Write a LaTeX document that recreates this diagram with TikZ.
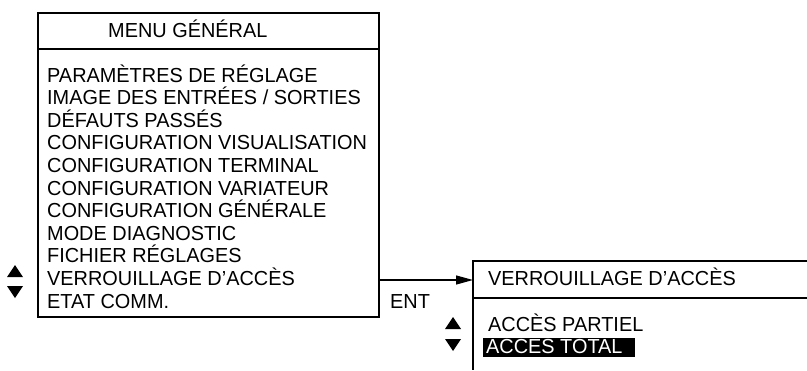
\documentclass[tikz,border=0pt]{standalone}
\usepackage{fontspec}
\setmainfont{Liberation Sans}[FakeStretch=0.98]
\usetikzlibrary{arrows.meta}
\begin{document}
\begin{tikzpicture}[x=1pt,y=-1pt,
  boxline/.style={line width=1.7pt},
  txt/.style={anchor=base west,inner sep=0pt,font=\fontsize{20.3}{22}\selectfont},
  tri/.style={fill=black,draw=none}]
\useasboundingbox (0,0) rectangle (807,370);
% main menu box
\node[draw,boxline,anchor=north west,minimum width=341pt,minimum height=304pt,inner sep=0pt] (menu) at (37,12) {};
\draw[boxline] (menu.north west |- 0,49) -- (menu.north east |- 0,49);
\node[txt] (title) at (108,37) {MENU GÉNÉRAL};
\foreach \t [count=\i] in {PARAMÈTRES DE RÉGLAGE,IMAGE DES ENTRÉES / SORTIES,DÉFAUTS PASSÉS,CONFIGURATION VISUALISATION,CONFIGURATION TERMINAL,CONFIGURATION VARIATEUR,CONFIGURATION GÉNÉRALE,MODE DIAGNOSTIC,FICHIER RÉGLAGES,VERROUILLAGE D’ACCÈS,ETAT COMM.}
  \node[txt] (item\i) at (47,{82+22.6*(\i-1)}) {\t};
% left up/down arrows
\fill[tri] (7,277) -- (23,277) -- (15,265) -- cycle;
\fill[tri] (7,286) -- (23,286) -- (15,298) -- cycle;
% sub box (open bottom, runs off right edge)
\coordinate (sub) at (473,280);
\draw[boxline] (807,261) -- (473,261) -- (473,370);
\draw[boxline] (473,298) -- (807,298);
% connector
\draw[line width=1.2pt,-{Triangle[length=17pt,width=9pt]}] (menu.east |- sub) -- (sub);
\node[txt] (ent) at (390,308) {ENT};
\node[txt] (subtitle) at (488,285) {VERROUILLAGE D’ACCÈS};
\node[txt] (partiel) at (488,331) {ACCÈS PARTIEL};
\fill[black] (483,338) rectangle (635,357);
\node[txt,text=white] (total) at (486,353) {ACCÈS TOTAL};
% right up/down arrows
\fill[tri] (445,329) -- (461,329) -- (453,317) -- cycle;
\fill[tri] (445,339) -- (461,339) -- (453,351) -- cycle;
\end{tikzpicture}
\end{document}
